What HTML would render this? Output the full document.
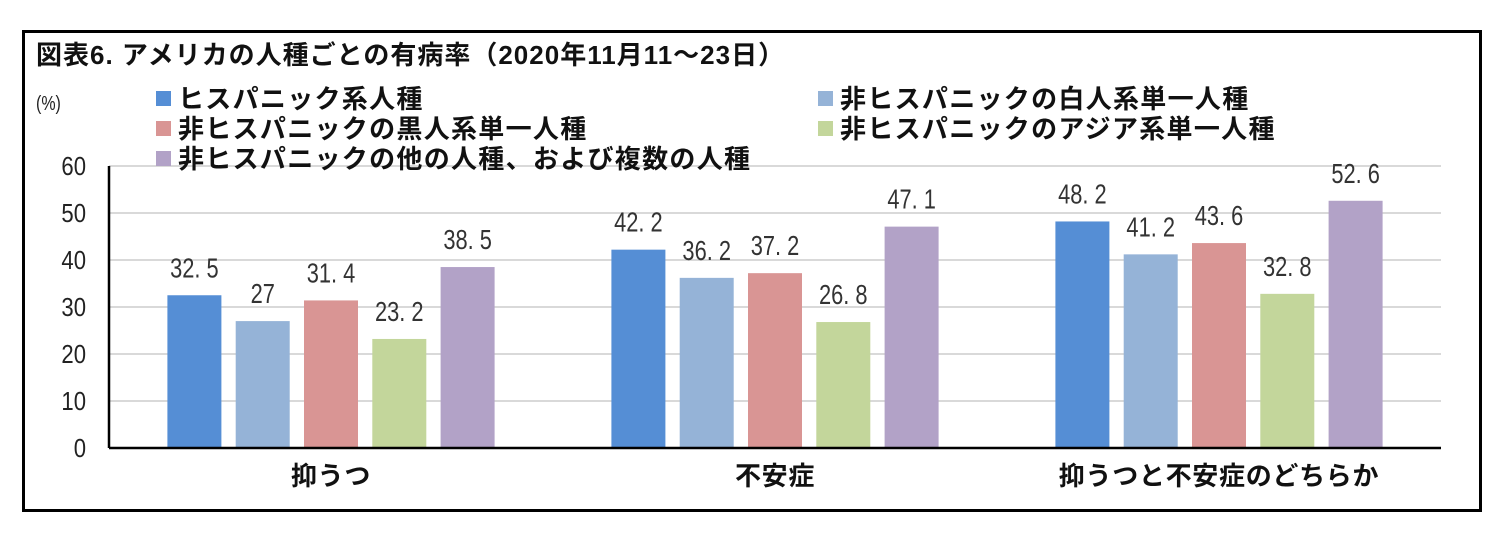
<!DOCTYPE html>
<html><head><meta charset="utf-8"><style>
body{margin:0;background:#fff;width:1507px;height:542px;overflow:hidden}
svg text{font-family:"Liberation Sans","Noto Sans CJK JP",sans-serif}
</style></head><body>
<svg id="c" width="1507" height="542">
<rect x="23.5" y="31.5" width="1457" height="479" fill="#fff" stroke="#000" stroke-width="3"/>
<text x="36" y="64" font-size="26" font-weight="bold" letter-spacing="1" fill="#111">図表6. アメリカの人種ごとの有病率（2020年11月11～23日）</text>
<text transform="translate(36,110) scale(0.8,1)" font-size="20" fill="#222">(%)</text>
<g id="grid"></g><g id="bars"></g><g id="legend"></g>
</svg>
<script>
const categories=["抑うつ","不安症","抑うつと不安症のどちらか"];
const seriesNames=["ヒスパニック系人種","非ヒスパニックの白人系単一人種","非ヒスパニックの黒人系単一人種","非ヒスパニックのアジア系単一人種","非ヒスパニックの他の人種、および複数の人種"];
const hispanic=[32.5,42.2,48.2];
const white=[27,36.2,41.2];
const black=[31.4,37.2,43.6];
const asian=[23.2,26.8,32.8];
const other=[38.5,47.1,52.6];
const yTicks=[0,10,20,30,40,50,60];
const labels=[["32.5","42.2","48.2"],["27","36.2","41.2"],["31.4","37.2","43.6"],["23.2","26.8","32.8"],["38.5","47.1","52.6"]];
const series=[hispanic,white,black,asian,other];
const colors=["#558ed5","#95b3d7","#d99594","#c3d69b","#b2a2c7"];
const NS="http://www.w3.org/2000/svg";
const x0=109,x1=1441,yb=448,yt=166;
const y=v=>yb-(v-0)/60*(yb-yt);
const gw=(x1-x0)/categories.length;
function mk(t,a,p){const e=document.createElementNS(NS,t);for(const k in a)e.setAttribute(k,a[k]);p.appendChild(e);return e;}
const grid=document.getElementById('grid'),bars=document.getElementById('bars'),leg=document.getElementById('legend');
yTicks.forEach(t=>{
 if(t>0){const l=mk('line',{x1:x0,x2:x1,y1:y(t),y2:y(t),stroke:'#d9d9d9','stroke-width':2},grid);
 
 }
 const tx=mk('text',{transform:`translate(86,${y(t)+9}) scale(0.85,1)`,'font-size':26,'text-anchor':'end',fill:'#222'},grid);tx.textContent=t;
 
 
});
const ax=mk('line',{x1:x0,x2:x0,y1:yt,y2:yb,stroke:'#000','stroke-width':2.5},grid);


const bw=54,step=68.3;
categories.forEach((c,i)=>{
 const cx=x0+gw*(i+0.5);
 series.forEach((s,j)=>{
  const bx=cx+(j-2)*step-bw/2;
  const r=mk('rect',{x:bx,y:y(s[i]),width:bw,height:yb-y(s[i]),fill:colors[j]},bars);
  
  
  const t=mk('text',{transform:`translate(${bx+bw/2},${y(s[i])-18}) scale(0.78,1)`,'font-size':28,'text-anchor':'middle',fill:'#333'},bars);t.textContent=labels[j][i].replace('.','. ');
  
  
 });
 const ct=mk('text',{x:cx,y:485,'font-size':26,'font-weight':'bold','letter-spacing':0.7,'text-anchor':'middle',fill:'#111'},bars);ct.textContent=c;
 
 
});
const bl=mk('line',{x1:x0,x2:x1,y1:yb,y2:yb,stroke:'#000','stroke-width':2.5},bars);


const lpos=[[156,108],[818,108],[156,138],[818,138],[156,168]];
seriesNames.forEach((n,j)=>{
 const g=mk('g',{},leg);
 
 
 mk('rect',{x:lpos[j][0],y:lpos[j][1]-17,width:15,height:15,fill:colors[j]},g);
 const t=mk('text',{x:lpos[j][0]+22,y:lpos[j][1],'font-size':26,'font-weight':'bold','letter-spacing':1.3,fill:'#111'},g);t.textContent=n;
});
</script>
</body></html>
